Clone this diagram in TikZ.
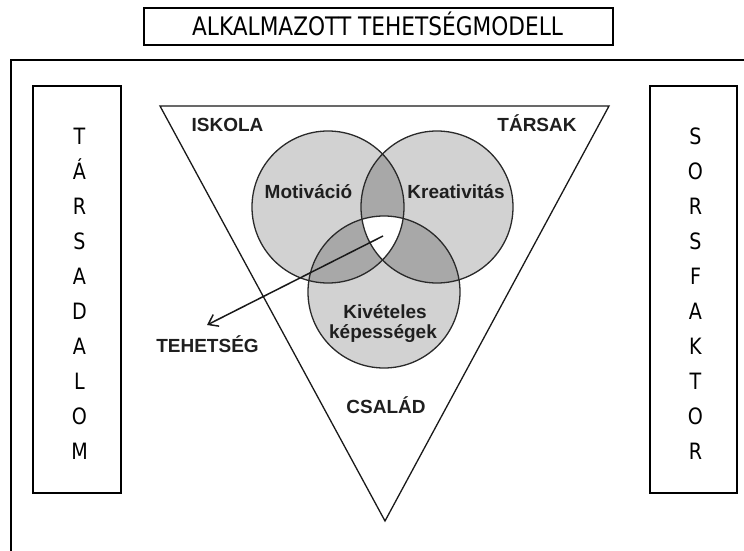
\documentclass[tikz,border=0pt]{standalone}
\usepackage{fontspec}
\setmainfont[FakeStretch=0.85]{DejaVu Sans}
\newfontfamily\arialf{Liberation Sans}
\usetikzlibrary{arrows.meta}
\definecolor{circfill}{HTML}{D2D2D2}
\definecolor{overfill}{HTML}{A8A8A8}
\definecolor{circline}{HTML}{2A2A2A}
\tikzset{
  boxline/.style={draw=black,line width=1.5pt},
  boldlbl/.style={font=\arialf\bfseries\fontsize{19}{21}\selectfont,text=black!88,anchor=base,inner sep=0pt},
  vletter/.style={font=\fontsize{22.5}{24}\selectfont,anchor=base,inner sep=0pt},
}
\begin{document}
\begin{tikzpicture}[x=1pt,y=-1pt]
\useasboundingbox (0,0) rectangle (744,551);
% title
\node[boxline,minimum width=469pt,minimum height=37pt,inner sep=0pt] (title) at (378.5,26.5) {};
\node[font=\fontsize{25.5}{27}\selectfont,anchor=base,inner sep=0pt] (titletext) at (377.5,36) {ALKALMAZOTT TEHETSÉGMODELL};
% outer frame (clipped)
\coordinate (fbl) at (11,551);
\coordinate (ftl) at (11,60);
\coordinate (ftr) at (744,60);
\draw[line width=1.3pt] (fbl) -- (ftl) -- (ftr);
% side boxes
\node[boxline,minimum width=88pt,minimum height=407pt,inner sep=0pt] (lbox) at (77,289.5) {};
\node[boxline,minimum width=87pt,minimum height=407pt,inner sep=0pt] (rbox) at (693.5,289.5) {};
\foreach \l [count=\i from 0] in {T,Á,R,S,A,D,A,L,O,M}{
  \node[vletter] (ll\i) at (79.5,144+35.1*\i) {\l};
}
\foreach \l [count=\i from 0] in {S,O,R,S,F,A,K,T,O,R}{
  \node[vletter] (rl\i) at (695.5,144+35.1*\i) {\l};
}
% triangle
\coordinate (tl) at (160,106);
\coordinate (tr) at (609,106);
\coordinate (tb) at (385,521);
\draw[line width=1.3pt,draw=black!90] (tl) -- (tr) -- (tb) -- cycle;
% circles
\coordinate (cm) at (328,207);
\coordinate (ck) at (437,207);
\coordinate (cv) at (384,292);
\def\rr{76}
\fill[circfill] (cm) circle (\rr);
\fill[circfill] (ck) circle (\rr);
\fill[circfill] (cv) circle (\rr);
\begin{scope}\clip (cm) circle (\rr); \fill[overfill] (ck) circle (\rr); \fill[overfill] (cv) circle (\rr); \end{scope}
\begin{scope}\clip (ck) circle (\rr); \fill[overfill] (cv) circle (\rr); \end{scope}
\begin{scope}\clip (cm) circle (\rr); \clip (ck) circle (\rr); \fill[white] (cv) circle (\rr); \end{scope}
\draw[circline,line width=1.3pt] (cm) circle (\rr);
\draw[circline,line width=1.3pt] (ck) circle (\rr);
\draw[circline,line width=1.3pt] (cv) circle (\rr);
% labels
\node[boldlbl] (iskola) at (227.5,131) {ISKOLA};
\node[boldlbl] (tarsak) at (537,131) {TÁRSAK};
\node[boldlbl] (csalad) at (386,413) {CSALÁD};
\node[boldlbl] (motiv) at (308.5,198) {Motiváció};
\node[boldlbl] (kreat) at (456,198) {Kreativitás};
\node[boldlbl] (kivet) at (385,318) {Kivételes};
\node[boldlbl] (kepes) at (383,338) {képességek};
\node[boldlbl] (tehet) at (207.5,352) {TEHETSÉG};
% arrow
\coordinate (astart) at (383,236);
\coordinate (aend) at (207,325);
\draw[line width=1.5pt,black!90,-{Straight Barb[length=9pt,width=13pt,line width=1.5pt]}] (astart) -- (aend);
\end{tikzpicture}
\end{document}
